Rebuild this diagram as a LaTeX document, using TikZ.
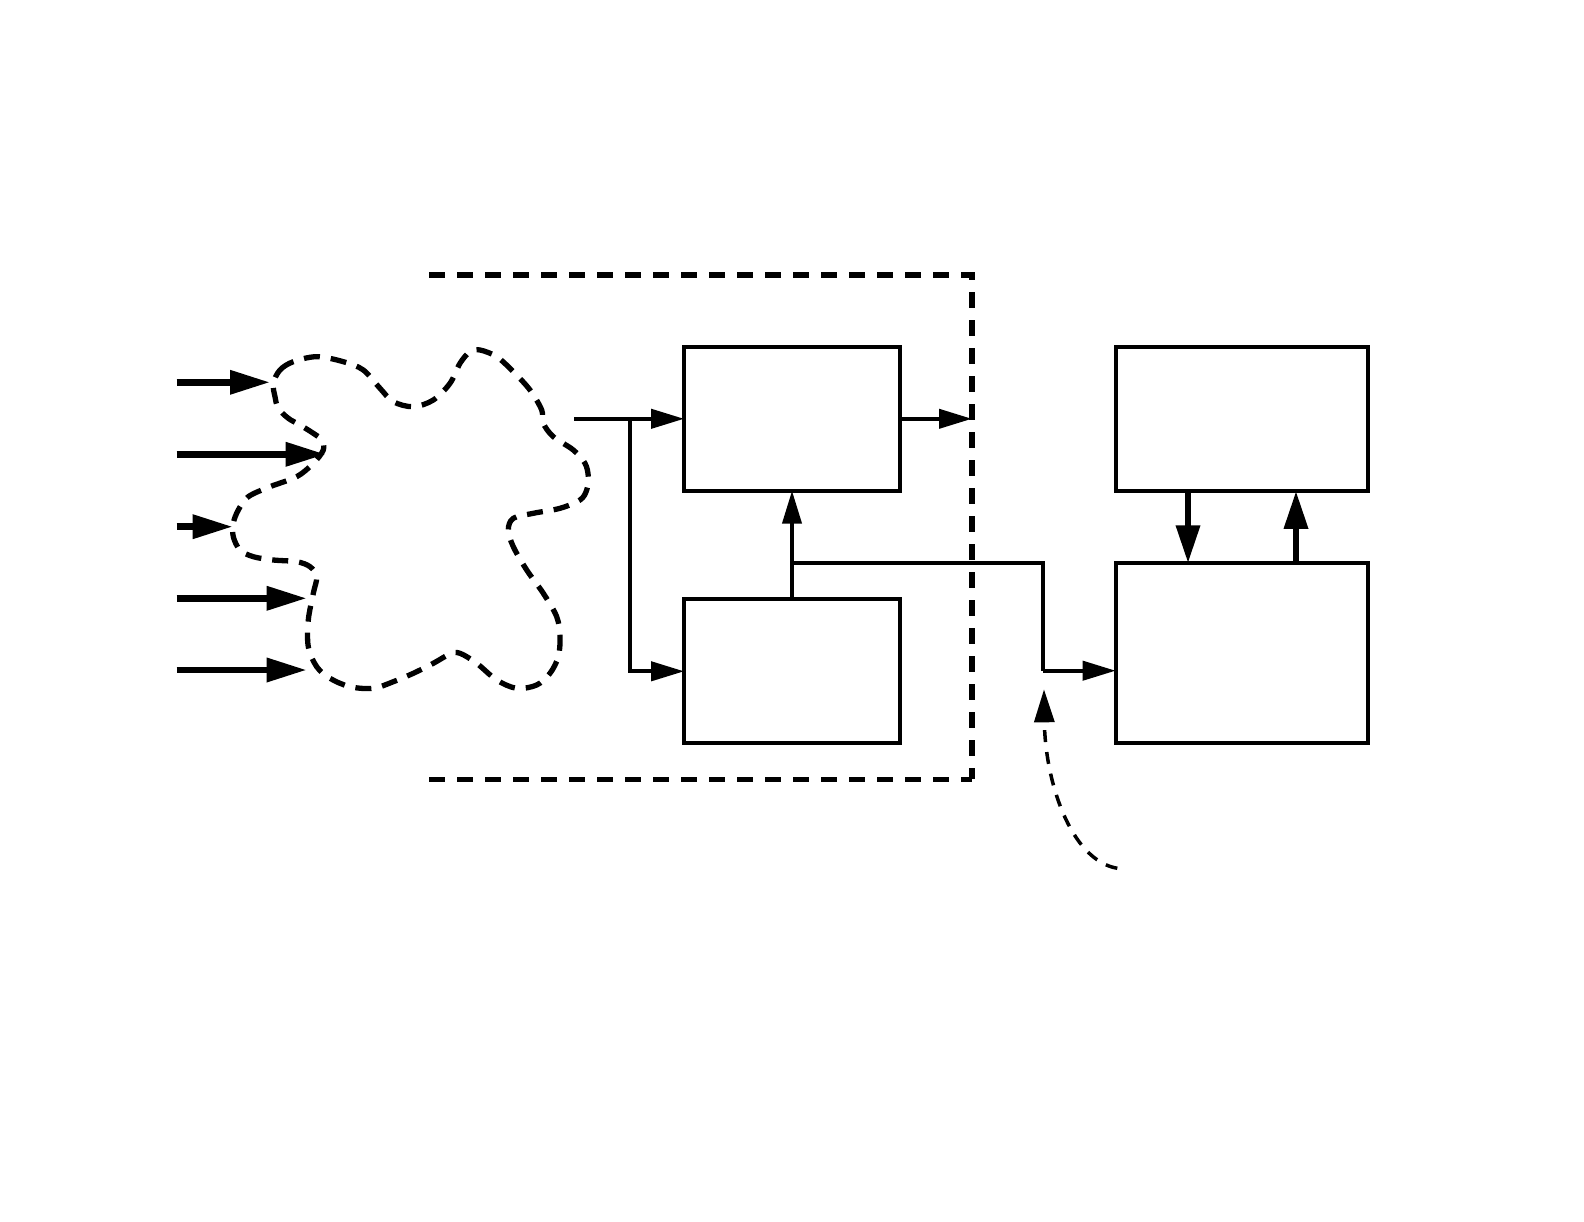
\documentclass[tikz,border=0pt]{standalone}
\usetikzlibrary{arrows.meta}
\begin{document}
\begin{tikzpicture}[x=1pt,y=-1pt,
  box/.style={draw, line width=4pt, minimum width=215.7pt, minimum height=143.7pt, inner sep=0pt, outer sep=0pt},
  widebox/.style={box, minimum width=252.6pt},
  inarrow/.style={line width=6.5pt, -{Triangle[length=40pt,width=23pt]}},
  conn/.style={line width=4pt},
  connarrow/.style={conn, -{Triangle[length=33pt,width=19pt]}},
  thickarrow/.style={line width=6.5pt, -{Triangle[length=38pt,width=23pt]}},
  bigdash/.style={line width=5.3pt, dash pattern=on 16pt off 12pt},
  blobdash/.style={line width=5.3pt, dash pattern=on 16pt off 11pt},
  curvedash/.style={line width=3.5pt, dash pattern=on 12pt off 10pt, -{Triangle[length=33pt,width=20pt]}}]
\useasboundingbox (0,0) rectangle (1584,1222);

% dashed enclosure open on the left
\coordinate (encTL) at (429.3,275);
\coordinate (encTR) at (972,275);
\coordinate (encBR) at (972,779.3);
\coordinate (encBL) at (429.3,779.3);
\draw[bigdash] (encTL) -- (encTR) -- (encBR);
\draw[bigdash] (encBL) -- (encBR);

% blob
\draw[blobdash] plot[smooth cycle, tension=0.55] coordinates {
(273.3,383.3) (280,370) (293.3,361.7) (316.7,356.7) (343.3,361.7) (363.3,370)
(380,388.3) (393.3,401.7) (413.3,406.7) (433.3,400) (450,383.3) (460,363.3)
(470,351.7) (480,350) (496.7,356.7) (513.3,371.7) (530,390) (541.7,410)
(543.3,423.3) (553.3,436.7) (573.3,450) (585,463.3) (588.3,476.7) (586.7,490)
(580,500) (560,508.3) (533.3,513.3) (513.3,518.3) (508.3,530) (513.3,546.7)
(526.7,570) (543.3,593.3) (556.7,616.7) (560,636.7) (558.3,656.7) (550,673.3)
(536.7,685) (516.7,688.3) (496.7,680) (476.7,663.3) (460,653.3) (450,654)
(433.3,663.3) (413.3,673.3) (393.3,681.7) (373.3,688.3) (350,686.7) (330,678.3)
(316.7,666.7) (308.3,646.7) (308.3,620) (313.3,593.3) (316.7,576.7) (310,566.7)
(296.7,561.7) (273.3,560) (253.3,556.7) (240,550) (233.3,536.7) (233.3,523.3)
(238.3,510) (248.3,496.7) (270,486.7) (296.7,476.7) (313.3,463.3) (323.3,450)
(321.7,440) (313.3,433.3) (300,425) (288.3,418.3) (278.3,408.3) (275,396.7)};

% left input arrows
\coordinate (a1s) at (176.7,382.3); \coordinate (a1e) at (270,382.3);
\coordinate (a2s) at (176.7,454.3); \coordinate (a2e) at (325.7,454.3);
\coordinate (a3s) at (176.7,526.7); \coordinate (a3e) at (232.7,526.7);
\coordinate (a4s) at (176.7,598.3); \coordinate (a4e) at (306.7,598.3);
\coordinate (a5s) at (176.7,670);   \coordinate (a5e) at (306.7,670);
\draw[inarrow] (a1s) -- (a1e);
\draw[inarrow] (a2s) -- (a2e);
\draw[inarrow] (a3s) -- (a3e);
\draw[inarrow] (a4s) -- (a4e);
\draw[inarrow] (a5s) -- (a5e);

% boxes
\node[box] (top) at (792,418.8) {};
\node[box] (bot) at (792,671.3) {};
\node[widebox] (rtop) at (1242,419) {};
\node[widebox, minimum height=179.4pt] (rbot) at (1242,653) {};

% input split
\coordinate (in) at (574,418.8);
\coordinate (split) at (630,418.8);
\draw[conn] (in) -- (split);
\draw[connarrow] (split) -- (top.west);
\draw[connarrow] (split) |- (bot.west);

% output of top box
\coordinate (out) at (972,418.8);
\draw[connarrow] (top.east) -- (out);

% bottom box to top box
\draw[connarrow] (bot.north) -- (top.south);

% tap to right
\coordinate (tap) at (792,562.7);
\coordinate (turn) at (1043.3,670.7);
\draw[conn] (tap) -| (turn);
\draw[connarrow] (turn) -- (turn -| rbot.west);

% between right boxes
\draw[thickarrow] ([xshift=-54pt]rtop.south) -- ([xshift=-54pt]rbot.north);
\draw[thickarrow] ([xshift=54pt]rbot.north) -- ([xshift=54pt]rtop.south);

% dashed curved arrow
\coordinate (cs) at (1117.3,868.3);
\coordinate (ce) at (1044,689.3);
\draw[curvedash] (cs) .. controls (1070,860) and (1045,780) .. (ce);
\end{tikzpicture}
\end{document}
